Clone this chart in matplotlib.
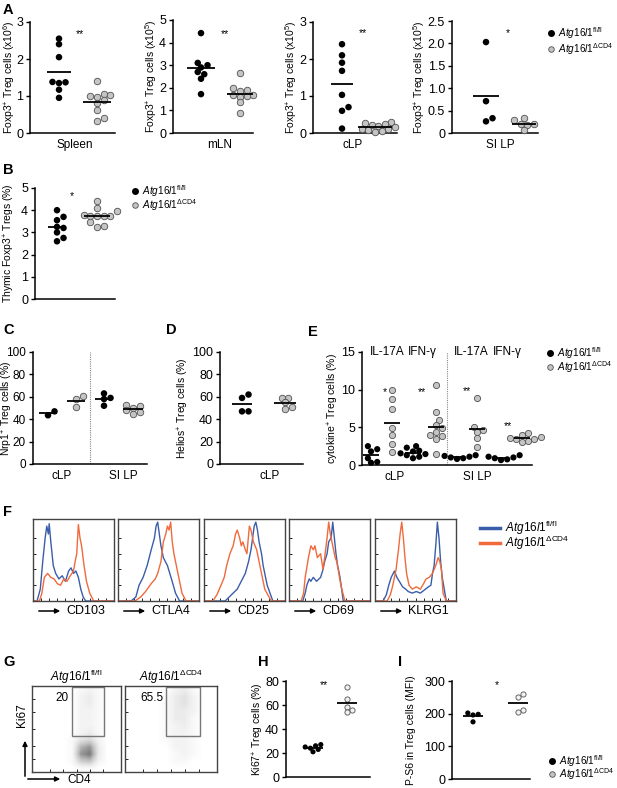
import numpy as np
import matplotlib
matplotlib.use('Agg')
import matplotlib.pyplot as plt
from matplotlib.lines import Line2D
from matplotlib.patches import Rectangle, FancyArrowPatch

# ---- data ----
# A: Foxp3+ Treg counts
spleen_fl = [2.55, 2.4, 2.05, 1.38, 1.37, 1.35, 1.17, 0.95]
spleen_cd4 = [1.41, 1.05, 1.02, 1.0, 0.98, 0.9, 0.8, 0.62, 0.4, 0.33]
mln_fl = [4.42, 3.1, 3.0, 2.9, 2.7, 2.6, 2.4, 1.72]
mln_cd4 = [2.67, 2.0, 1.9, 1.85, 1.7, 1.68, 1.65, 1.6, 1.35, 0.9]
clp_fl = [2.4, 2.1, 1.9, 1.68, 1.03, 0.7, 0.6, 0.12]
clp_cd4 = [0.3, 0.27, 0.25, 0.22, 0.18, 0.15, 0.12, 0.1, 0.08, 0.05, 0.04]
silp_fl = [2.03, 0.71, 0.33, 0.26]
silp_cd4 = [0.33, 0.28, 0.2, 0.2, 0.18, 0.06]

# B: thymic Tregs (%)
thy_fl = [4.0, 3.7, 3.55, 3.25, 3.2, 3.0, 2.75, 2.6]
thy_cd4 = [4.4, 4.1, 3.95, 3.8, 3.75, 3.75, 3.75, 3.72, 3.45, 3.3, 3.25]

# C: Nrp1+ (%)
nrp_clp_fl = [47, 43.5]
nrp_clp_cd4 = [61, 58, 51]
nrp_silp_fl = [63, 59, 58, 52]
nrp_silp_cd4 = [53, 52, 50, 48, 46, 45]

# D: Helios+ (%)
helios_fl = [62, 59, 47, 47]
helios_cd4 = [59, 59, 55, 51, 49]

# E: cytokine+ (%)
e_clp_il17_fl = [2.5, 2.1, 1.8, 0.9, 0.4, 0.3]
e_clp_il17_cd4 = [10.0, 8.7, 7.4, 4.85, 3.97, 2.8, 1.7]
e_clp_ifn_fl = [2.5, 2.3, 1.9, 1.8, 1.55, 1.45, 1.3, 1.1, 0.9]
e_clp_ifn_cd4 = [10.6, 7.05, 6.0, 5.3, 4.85, 4.4, 3.97, 3.8, 3.5, 1.45]
e_silp_il17_fl = [1.3, 1.2, 1.1, 1.0, 0.9, 0.8]
e_silp_il17_cd4 = [8.9, 5.0, 4.6, 4.4, 3.6, 2.4]
e_silp_ifn_fl = [1.3, 1.1, 1.0, 0.9, 0.75, 0.65]
e_silp_ifn_cd4 = [4.2, 4.0, 3.75, 3.6, 3.5, 3.4, 3.2, 3.1]
e_cols = ['IL-17A', 'IFN-\u03b3', 'IL-17A', 'IFN-\u03b3']

# F: histograms (x = % of axis, y = % of max)
f_markers = ['CD103', 'CTLA4', 'CD25', 'CD69', 'KLRG1']
cd103_fl_x = [0, 5, 9, 12, 15, 17, 19, 20, 22, 25, 28, 32, 36, 40, 44, 47, 50, 53, 56, 59, 62, 65, 70, 100]
cd103_fl_y = [0, 0, 15, 50, 80, 95, 85, 98, 75, 45, 35, 28, 32, 25, 38, 42, 35, 38, 30, 15, 5, 0, 0, 0]
cd103_cd4_x = [0, 8, 11, 14, 18, 22, 26, 30, 34, 38, 42, 46, 50, 52, 54, 56, 58, 60, 63, 66, 70, 75, 100]
cd103_cd4_y = [0, 0, 10, 30, 35, 30, 28, 22, 20, 28, 25, 32, 38, 50, 60, 97, 80, 70, 45, 25, 10, 0, 0]
ctla4_fl_x = [0, 16, 22, 26, 31, 36, 41, 45, 47, 49, 51, 53, 56, 61, 66, 71, 76, 100]
ctla4_fl_y = [0, 0, 5, 20, 30, 45, 65, 80, 95, 100, 85, 70, 55, 45, 28, 10, 0, 0]
ctla4_cd4_x = [0, 21, 28, 34, 41, 46, 49, 53, 56, 59, 61, 63, 65, 67, 69, 74, 79, 84, 100]
ctla4_cd4_y = [0, 0, 5, 12, 22, 28, 35, 50, 75, 85, 95, 90, 100, 75, 60, 35, 10, 0, 0]
cd25_fl_x = [0, 26, 31, 36, 41, 46, 51, 55, 58, 60, 62, 64, 66, 68, 71, 73, 78, 85, 100]
cd25_fl_y = [0, 0, 5, 10, 15, 25, 35, 50, 65, 80, 95, 100, 90, 75, 60, 45, 20, 0, 0]
cd25_cd4_x = [0, 11, 16, 21, 25, 28, 32, 36, 39, 41, 44, 46, 48, 51, 53, 56, 58, 61, 65, 70, 75, 83, 100]
cd25_cd4_y = [0, 0, 8, 20, 30, 45, 60, 70, 85, 90, 80, 70, 75, 65, 60, 95, 90, 75, 65, 40, 15, 0, 0]
cd69_fl_x = [0, 17, 20, 22, 25, 27, 30, 34, 37, 39, 42, 44, 47, 49, 52, 54, 56, 58, 60, 63, 67, 100]
cd69_fl_y = [0, 0, 10, 20, 28, 25, 30, 25, 28, 30, 40, 50, 60, 75, 80, 100, 80, 60, 45, 30, 0, 0]
cd69_cd4_x = [0, 15, 18, 20, 24, 27, 30, 32, 35, 39, 42, 44, 47, 49, 51, 54, 57, 59, 64, 69, 100]
cd69_cd4_y = [0, 0, 10, 30, 55, 70, 65, 70, 55, 60, 40, 55, 80, 100, 85, 70, 55, 50, 20, 0, 0]
klrg1_fl_x = [0, 10, 14, 17, 20, 24, 27, 30, 34, 38, 41, 46, 51, 56, 61, 66, 69, 71, 73, 75, 77, 79, 81, 83, 88, 100]
klrg1_fl_y = [0, 0, 8, 20, 30, 38, 30, 25, 18, 15, 12, 10, 12, 10, 14, 18, 20, 35, 45, 70, 100, 80, 50, 30, 0, 0]
klrg1_cd4_x = [0, 15, 19, 22, 26, 29, 31, 33, 35, 37, 39, 42, 46, 51, 56, 60, 63, 67, 71, 75, 78, 80, 82, 84, 88, 100]
klrg1_cd4_y = [0, 0, 8, 20, 40, 65, 85, 100, 80, 55, 35, 20, 15, 18, 15, 22, 28, 30, 35, 45, 55, 50, 40, 10, 0, 0]

# G: Ki67 vs CD4 dot plot densities (rows top->bottom, cols left->right)
ki67_grid_fl = [
    [0, 0, 0, 0, 0, 1, 2, 1, 0, 0],
    [0, 0, 0, 0, 0, 2, 3, 1, 0, 0],
    [0, 0, 0, 0, 0, 2, 3, 1, 0, 0],
    [0, 0, 0, 0, 0, 2, 2, 1, 0, 0],
    [0, 0, 0, 0, 0, 2, 2, 1, 0, 0],
    [0, 0, 0, 0, 0, 2, 2, 1, 0, 0],
    [0, 0, 0, 0, 0, 2, 3, 1, 0, 0],
    [0, 0, 0, 0, 1, 4, 5, 2, 0, 0],
    [0, 0, 0, 0, 1, 8, 10, 3, 0, 0],
    [0, 0, 0, 0, 1, 10, 12, 3, 0, 0],
    [0, 0, 0, 0, 1, 6, 7, 2, 0, 0],
    [0, 0, 0, 0, 0, 1, 1, 0, 0, 0]]
ki67_grid_cd4 = [
    [0, 0, 0, 0, 0, 2, 3, 1, 0, 0],
    [0, 0, 0, 0, 1, 3, 4, 2, 0, 0],
    [0, 0, 0, 0, 1, 3, 4, 2, 0, 0],
    [0, 0, 0, 0, 1, 3, 3, 2, 0, 0],
    [0, 0, 0, 0, 1, 3, 3, 1, 0, 0],
    [0, 0, 0, 0, 1, 2, 3, 1, 0, 0],
    [0, 0, 0, 0, 1, 2, 2, 1, 0, 0],
    [0, 0, 0, 0, 1, 2, 2, 1, 0, 0],
    [0, 0, 0, 0, 0, 2, 2, 1, 0, 0],
    [0, 0, 0, 0, 0, 1, 2, 1, 0, 0],
    [0, 0, 0, 0, 0, 1, 1, 0, 0, 0],
    [0, 0, 0, 0, 0, 0, 0, 0, 0, 0]]
gate_pct = ['20', '65.5']

# H / I
ki67_fl = [27, 26, 25, 24, 23, 21]
ki67_cd4 = [75, 65, 58, 56, 54]
ps6_fl = [202, 198, 196, 175]
ps6_cd4 = [260, 252, 212, 206]

# ---- style ----
plt.rcParams['font.family'] = ['Liberation Sans', 'DejaVu Sans']
plt.rcParams['mathtext.fontset'] = 'custom'
plt.rcParams['mathtext.rm'] = 'Liberation Sans'
plt.rcParams['mathtext.it'] = 'Liberation Sans:italic'
plt.rcParams['mathtext.bf'] = 'Liberation Sans:bold'

FL = r'$\mathit{Atg16l1}^{\mathrm{fl/fl}}$'
CD4 = r'$\mathit{Atg16l1}^{\Delta\mathrm{CD4}}$'
BLUE = '#3a5daa'
ORANGE = '#f06a3c'

W, H = 617, 788
fig = plt.figure(figsize=(W / 100, H / 100), dpi=100)


def px_axes(x0, y0, x1, y1):
    return fig.add_axes([x0 / W, 1 - y1 / H, (x1 - x0) / W, (y1 - y0) / H])


def dot_axes(x0, y0, x1, y1, ylim, yticks, ylabel, label_x, yticklabels=None, tick_fs=9):
    ax = px_axes(x0, y0, x1, y1)
    for s in ['top', 'right']:
        ax.spines[s].set_visible(False)
    ax.spines['left'].set_linewidth(1.1)
    ax.spines['bottom'].set_linewidth(1.1)
    ax.set_xlim(0, x1 - x0)
    ax.set_ylim(*ylim)
    ax.set_yticks(yticks)
    if yticklabels is not None:
        ax.set_yticklabels(yticklabels)
    ax.set_xticks([])
    ax.tick_params(axis='y', length=3, width=1, labelsize=tick_fs, pad=2)
    ax.set_ylabel(ylabel, fontsize=7.5)
    ax.yaxis.set_label_coords((label_x - x0) / (x1 - x0), 0.5)
    ax.yaxis.label.set_va('center')
    return ax


def swarm(vals, ppu, d):
    placed = []
    res = [0.0] * len(vals)
    cands = [0.0]
    for j in range(1, 14):
        cands += [j * d / 2, -j * d / 2]
    for i in sorted(range(len(vals)), key=lambda k: vals[k]):
        y = vals[i] * ppu
        for x in cands:
            if all((x - px) ** 2 + (y - py) ** 2 >= (0.85 * d) ** 2 for px, py in placed):
                break
        placed.append((x, y))
        res[i] = x
    return res


def dots(ax, vals, xc, black, half, s=22, small=False):
    lo, hi = ax.get_ylim()
    ppu = ax.get_position().height * H / (hi - lo)
    d = np.sqrt(s) / 0.72
    offs = swarm(vals, ppu, d)
    xs = [xc + o for o in offs]
    if black:
        ax.scatter(xs, vals, s=s, c='black', edgecolors='none', zorder=3, clip_on=False)
    else:
        face = '#f2f2f2' if small else '#c4c4c4'
        ax.scatter(xs, vals, s=s, c=face, edgecolors='#505050', linewidths=0.6,
                   zorder=3, clip_on=False)
    m = np.mean(vals)
    ax.plot([xc - half, xc + half], [m, m], color='black', lw=1.3, zorder=4,
            clip_on=False, solid_capstyle='butt')


def star(ax, x, y, txt):
    ax.annotate(txt, (x, y), xytext=(0, -2), textcoords='offset points', ha='center',
                va='center', fontsize=7.5, annotation_clip=False)


def cat_labels(ax, pos, labels):
    ax.set_xticks(pos)
    ax.set_xticklabels(labels)
    ax.tick_params(axis='x', length=0, pad=4, labelsize=8.5)


def legend_dots(x, y, gap=14):
    for k, (lab, black) in enumerate([(FL, True), (CD4, False)]):
        yy = 1 - (y + k * gap) / H
        if black:
            fig.add_artist(Line2D([x / W], [yy], marker='o', ms=4, mfc='black', mec='black',
                                  ls='none', transform=fig.transFigure))
        else:
            fig.add_artist(Line2D([x / W], [yy], marker='o', ms=4, mfc='#c4c4c4',
                                  mec='#505050', mew=0.6, ls='none', transform=fig.transFigure))
        fig.text((x + 7) / W, yy, lab, fontsize=7.2, va='center', ha='left')


def letter(x, y, t):
    fig.text(x / W, 1 - y / H, t, fontsize=10.5, fontweight='bold', va='top', ha='left')


def fig_arrow(p0, p1):
    fig.add_artist(FancyArrowPatch((p0[0] / W, 1 - p0[1] / H), (p1[0] / W, 1 - p1[1] / H),
                                   transform=fig.transFigure, arrowstyle='-|>',
                                   mutation_scale=7, lw=1.1, color='black'))


# ---- A ----
letter(3, 3, 'A')
ax = dot_axes(30, 22, 115, 133, (0, 3), [0, 1, 2, 3], 'Foxp3$^{+}$ Treg cells (x10$^{6}$)', 9)
dots(ax, spleen_fl, 29, True, 12)
dots(ax, spleen_cd4, 67, False, 14)
star(ax, 50, 2.76, '**')
cat_labels(ax, [45], ['Spleen'])

ax = dot_axes(173, 20, 253, 133, (0, 5), [0, 1, 2, 3, 4, 5],
              'Foxp3$^{+}$ Treg cells (x10$^{5}$)', 151)
dots(ax, mln_fl, 28, True, 14)
dots(ax, mln_cd4, 67, False, 13)
star(ax, 52, 4.5, '**')
cat_labels(ax, [47], ['mLN'])

ax = dot_axes(313, 22, 397, 133, (0, 3), [0, 1, 2, 3], 'Foxp3$^{+}$ Treg cells (x10$^{5}$)', 291)
dots(ax, clp_fl, 29, True, 11)
dots(ax, clp_cd4, 62, False, 17)
star(ax, 50, 2.78, '**')
cat_labels(ax, [40], ['cLP'])

ax = dot_axes(452, 21, 538, 133, (0, 2.5), [0, 0.5, 1.0, 1.5, 2.0, 2.5],
              'Foxp3$^{+}$ Treg cells (x10$^{5}$)', 419, ['0', '0.5', '1.0', '1.5', '2.0', '2.5'])
dots(ax, silp_fl, 34, True, 13)
dots(ax, silp_cd4, 72, False, 12)
star(ax, 56, 2.3, '*')
cat_labels(ax, [48], ['SI LP'])
legend_dots(551, 33, gap=16)

# ---- B ----
letter(3, 163, 'B')
ax = dot_axes(35, 188, 115, 299, (0, 5), [0, 1, 2, 3, 4, 5], 'Thymic Foxp3$^{+}$ Tregs (%)', 9)
dots(ax, thy_fl, 22, True, 9)
dots(ax, thy_cd4, 62, False, 13)
star(ax, 37, 4.77, '*')
legend_dots(135, 191)

# ---- C ----
letter(3, 323, 'C')
ax = dot_axes(33, 352, 147, 464, (0, 100), [0, 20, 40, 60, 80, 100],
              'Nrp1$^{+}$ Treg cells (%)', 7.5, tick_fs=8.5)
ax.axvline(57, color='#888888', lw=0.8, ls=(0, (1, 1)))
dots(ax, nrp_clp_fl, 15, True, 9)
dots(ax, nrp_clp_cd4, 43, False, 9)
dots(ax, nrp_silp_fl, 71, True, 9)
dots(ax, nrp_silp_cd4, 100, False, 10)
cat_labels(ax, [29, 90], ['cLP', 'SI LP'])

# ---- D ----
letter(166, 323, 'D')
ax = dot_axes(220, 352, 303, 464, (0, 100), [0, 20, 40, 60, 80, 100],
              'Helios$^{+}$ Treg cells (%)', 183)
dots(ax, helios_fl, 22, True, 10)
dots(ax, helios_cd4, 65, False, 11)
cat_labels(ax, [50], ['cLP'])

# ---- E ----
letter(308, 325, 'E')
ax = dot_axes(362, 352, 532, 465, (0, 15), [0, 5, 10, 15], 'cytokine$^{+}$ Treg cells (%)', 333)
ax.axvline(85, color='#888888', lw=0.8, ls=(0, (1, 1)))
e_groups = [e_clp_il17_fl, e_clp_il17_cd4, e_clp_ifn_fl, e_clp_ifn_cd4,
            e_silp_il17_fl, e_silp_il17_cd4, e_silp_ifn_fl, e_silp_ifn_cd4]
e_pos = [9, 30, 51, 74, 95, 115, 139, 160]
for k, (vals, xp) in enumerate(zip(e_groups, e_pos)):
    dots(ax, vals, xp, k % 2 == 0, 8, s=20)
for lab, xp in zip(e_cols, [25, 60, 109, 145]):
    ax.text(xp, 15, lab, ha='center', va='center', fontsize=8.5)
star(ax, 23, 10.1, '*')
star(ax, 60, 10.1, '**')
star(ax, 105, 10.2, '**')
star(ax, 146, 5.6, '**')
cat_labels(ax, [33, 115], ['cLP', 'SI LP'])
legend_dots(550, 353)

# ---- F ----
letter(3, 505, 'F')
f_data = [(cd103_fl_x, cd103_fl_y, cd103_cd4_x, cd103_cd4_y),
          (ctla4_fl_x, ctla4_fl_y, ctla4_cd4_x, ctla4_cd4_y),
          (cd25_fl_x, cd25_fl_y, cd25_cd4_x, cd25_cd4_y),
          (cd69_fl_x, cd69_fl_y, cd69_cd4_x, cd69_cd4_y),
          (klrg1_fl_x, klrg1_fl_y, klrg1_cd4_x, klrg1_cd4_y)]
f_left = [33, 118, 204, 289, 375]
for x0, name, (bx, by, ox, oy) in zip(f_left, f_markers, f_data):
    ax = px_axes(x0, 519, x0 + 81, 601)
    ax.plot(bx, by, color=BLUE, lw=1.0)
    ax.plot(ox, oy, color=ORANGE, lw=1.0)
    ax.set_xlim(0, 100)
    ax.set_ylim(0, 104)
    for s in ax.spines.values():
        s.set_color('#444444')
        s.set_linewidth(1.0)
    ax.set_xticks([10, 20, 30, 40, 50, 60, 70, 80, 90])
    ax.set_yticks([20, 40, 60, 80])
    ax.tick_params(direction='in', length=2, width=0.6, labelleft=False, labelbottom=False)
    fig_arrow((x0 + 3, 611), (x0 + 30, 611))
    fig.text((x0 + 33) / W, 1 - 611 / H, name, fontsize=9, va='center', ha='left')
for k, (lab, col) in enumerate([(FL, BLUE), (CD4, ORANGE)]):
    yy = 1 - (528 + k * 15) / H
    fig.add_artist(Line2D([480 / W, 500 / W], [yy, yy], color=col, lw=2.5,
                          transform=fig.transFigure))
    fig.text(505 / W, yy, lab, fontsize=8.5, va='center', ha='left')

# ---- G ----
letter(3, 655, 'G')
g_boxes = [(32, 121, ki67_grid_fl, FL, gate_pct[0], 0.34),
           (125, 217, ki67_grid_cd4, CD4, gate_pct[1], 0.29)]
for x0, x1, grid, title, pct, tx in g_boxes:
    ax = px_axes(x0, 686, x1, 772)
    ax.imshow(grid, cmap='Greys', vmin=0, vmax=20, extent=(0, 1, 0, 1), aspect='auto',
              interpolation='bilinear')
    ax.add_patch(Rectangle((0.45, 0.42), 0.36, 0.57, fill=False, ec='#777777', lw=1.0))
    ax.text(tx, 0.86, pct, ha='center', va='center', fontsize=8.5)
    ax.set_xlim(0, 1)
    ax.set_ylim(0, 1)
    for s in ax.spines.values():
        s.set_color('#444444')
        s.set_linewidth(1.0)
    ax.set_xticks([0.2, 0.35, 0.5, 0.65, 0.8])
    ax.set_yticks([0.15, 0.3, 0.5, 0.7, 0.85])
    ax.tick_params(direction='in', length=2, width=0.6, labelleft=False, labelbottom=False)
    ax.set_title(title, fontsize=8.5, pad=2)
fig_arrow((25, 779), (25, 738))
fig_arrow((25, 779), (63, 779))
fig.text(22 / W, 1 - 715 / H, 'Ki67', rotation=90, fontsize=8.5, ha='center', va='center')
fig.text(67 / W, 1 - 780 / H, 'CD4', fontsize=8.5, ha='left', va='center')

# ---- H ----
letter(258, 655, 'H')
ax = dot_axes(286, 681, 370, 777, (0, 80), [0, 20, 40, 60, 80], 'Ki67$^{+}$ Treg cells (%)', 258)
dots(ax, ki67_fl, 27, True, 10, s=14)
dots(ax, ki67_cd4, 61, False, 10, s=14, small=True)
star(ax, 38, 79, '**')

# ---- I ----
letter(398, 655, 'I')
ax = dot_axes(452, 681, 530, 779, (0, 300), [0, 100, 200, 300], 'P-S6 in Treg cells (MFI)', 411)
dots(ax, ps6_fl, 21, True, 10, s=14)
dots(ax, ps6_cd4, 66, False, 10, s=14, small=True)
star(ax, 45, 297, '*')
legend_dots(552, 761, gap=13)

fig.savefig('out.png', dpi=100)
